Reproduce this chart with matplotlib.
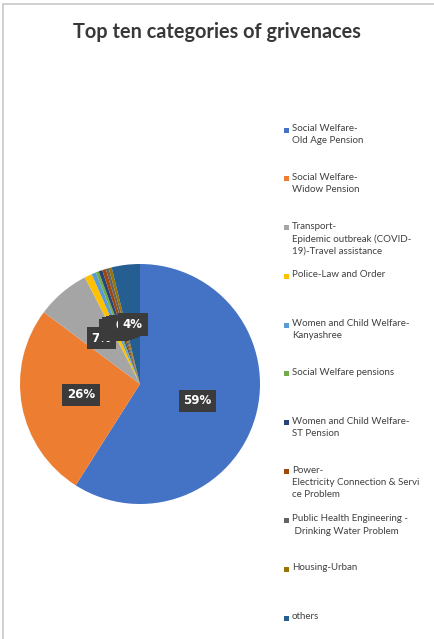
import matplotlib
matplotlib.use("Agg")
import matplotlib.pyplot as plt
import numpy as np
from matplotlib.patches import Rectangle

categories = [
    "Social Welfare-\nOld Age Pension",
    "Social Welfare-\nWidow Pension",
    "Transport-\nEpidemic outbreak (COVID-\n19)-Travel assistance",
    "Police-Law and Order",
    "Women and Child Welfare-\nKanyashree",
    "Social Welfare pensions",
    "Women and Child Welfare-\nST Pension",
    "Power-\nElectricity Connection & Servi\nce Problem",
    "Public Health Engineering -\n Drinking Water Problem",
    "Housing-Urban",
    "others",
]
shares = [59.0, 26.2, 7.2, 1.0, 0.6, 0.4, 0.5, 0.5, 0.4, 0.4, 3.8]
colors = ["#4472C4", "#ED7D31", "#A5A5A5", "#FFC000", "#5B9BD5", "#70AD47",
          "#264478", "#9E480E", "#636363", "#997300", "#255E91"]

W, H = 434, 639
fig = plt.figure(figsize=(W / 100, H / 100), dpi=100, facecolor="white")

# frame of the chart area
fig.patches.append(Rectangle((3 / W, -0.1), 1.2, 1 - 4 / H + 0.1,
                             transform=fig.transFigure, fill=False,
                             edgecolor="#c8c8c8", linewidth=1.2))

fig.text(0.5, 1 - 32 / H, "Top ten categories of grivenaces", ha="center",
         va="center", fontsize=14.3, fontweight="bold", color="#383838",
         family="Lato")

ax = fig.add_axes([20 / W, 1 - 504 / H, 240 / W, 240 / H])
wedges, _ = ax.pie(shares, colors=colors, startangle=90, counterclock=False,
                   radius=1.0, wedgeprops={"linewidth": 0})
ax.set_xlim(-1, 1)
ax.set_ylim(-1, 1)
ax.set_aspect("equal")
ax.axis("off")

# data labels at half radius, later ones drawn on top (as in the source)
for i, (w, v) in enumerate(zip(wedges, shares)):
    mid = np.deg2rad((w.theta1 + w.theta2) / 2)
    x, y = 0.5 * np.cos(mid), 0.5 * np.sin(mid)
    ax.text(x, y, f"{round(v):d}%", ha="center", va="center", fontsize=8.5,
            fontweight="bold", color="white", family="DejaVu Sans",
            zorder=5 + i,
            bbox=dict(boxstyle="square,pad=0.4", facecolor="#3b3b3b",
                      edgecolor="none"))

# legend, evenly pitched entries
top = 127
pitch = 48.8
for i, (lab, c) in enumerate(zip(categories, colors)):
    y = top + i * pitch
    fig.patches.append(Rectangle((284 / W, 1 - (y + 5.5) / H), 5 / W, 5 / H,
                                 transform=fig.transFigure, facecolor=c,
                                 edgecolor="none"))
    fig.text(292 / W, 1 - (y - 3) / H, lab, ha="left", va="top", fontsize=7,
             color="#404040", family="Lato", linespacing=1.45)

fig.savefig("out.png", dpi=100, facecolor="white")
